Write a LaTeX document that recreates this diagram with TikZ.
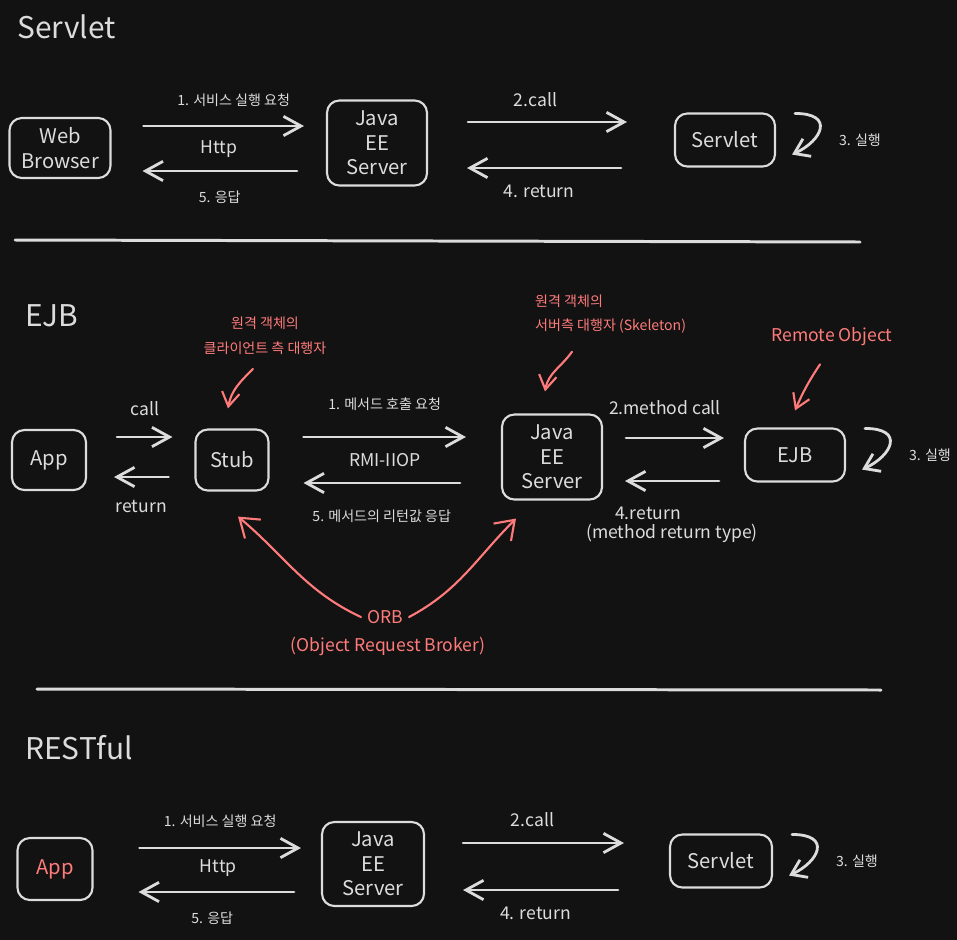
\documentclass[tikz,border=0pt]{standalone}
\usepackage{fontspec}
\setmainfont{Noto Sans CJK KR}
\usetikzlibrary{arrows.meta}

\definecolor{bgC}{HTML}{121212}
\definecolor{inkC}{HTML}{DCDCDC}
\definecolor{noteC}{HTML}{FF7B7B}

\tikzset{
  box/.style={draw=inkC,line width=1.2pt,rounded corners=7pt,text=inkC,align=center,
    inner sep=0pt,font=\fontsize{11.5}{14}\selectfont},
  arr/.style={draw=inkC,line width=1.6pt,line cap=round,-{Straight Barb[length=10pt,width=11pt]}},
  rarr/.style={draw=noteC,line width=1.2pt,line cap=round,-{Straight Barb[length=8pt,width=10pt]}},
  lbl/.style={text=inkC,font=\fontsize{10}{12}\selectfont},
  klbl/.style={text=inkC,font=\fontsize{8}{10}\selectfont},
  note/.style={text=noteC,font=\fontsize{8}{14}\selectfont,align=center},
  bignote/.style={text=noteC,font=\fontsize{10}{12}\selectfont},
  title/.style={text=inkC,anchor=west,inner sep=0pt,font=\fontsize{17}{20}\selectfont},
  sep/.style={draw=inkC,line width=1.7pt,line cap=round}
}

\begin{document}
\begin{tikzpicture}[x=0.02cm,y=-0.02cm]
\fill[bgC] (0,0) rectangle (957,940);

% Servlet
\node[title] (t1) at (17,27) {Servlet};
\node[box,minimum width=2.02cm,minimum height=1.2cm] (wb) at (60,148) {Web\\Browser};
\node[box,minimum width=2cm,minimum height=1.7cm] (jee1) at (377,143) {Java\\EE\\Server};
\node[box,minimum width=2cm,minimum height=1.06cm] (sv1) at (725,140) {Servlet};

\draw[arr] ([shift={(32,-22)}]wb.east) -- node[klbl,xshift=0.2cm,yshift=0.52cm]{1. 서비스 실행 요청}
  node[lbl,xshift=-0.1cm,yshift=-0.46cm]{Http} ([shift={(-22,-17)}]jee1.west);
\draw[arr] ([shift={(-29,28)}]jee1.west) -- node[klbl,yshift=-0.52cm]{5. 응답} ([shift={(31,23)}]wb.east);
\draw[arr] ([shift={(40,-21)}]jee1.east) -- node[lbl,xshift=-0.24cm,yshift=0.44cm]{2.call} ([shift={(-47,-18)}]sv1.west);
\draw[arr] ([shift={(-53,28)}]sv1.west) -- node[lbl,xshift=-0.1cm,yshift=-0.46cm]{4. return} ([shift={(39,25)}]jee1.east);

\draw[sep] (15,240) -- (860,242);

% EJB
\node[title] (t2) at (25,316) {EJB};
\node[box,minimum width=1.48cm,minimum height=1.2cm] (app2) at (49,460) {App};
\node[box,minimum width=1.46cm,minimum height=1.22cm] (stub) at (232,460) {Stub};
\node[box,minimum width=2cm,minimum height=1.7cm] (jee2) at (552,457) {Java\\EE\\Server};
\node[box,minimum width=2cm,minimum height=1.06cm] (ejb) at (795,455) {EJB};

\draw[arr] ([shift={(30,-23)}]app2.east) -- node[lbl,yshift=0.56cm]{call} ([shift={(-22,-23)}]stub.west);
\draw[arr] ([shift={(-26,17)}]stub.west) -- node[lbl,yshift=-0.58cm]{return} ([shift={(27,17)}]app2.east);
\draw[arr] ([shift={(34,-23)}]stub.east) -- node[klbl,yshift=0.66cm]{1. 메서드 호출 요청}
  node[lbl,yshift=-0.46cm]{RMI-IIOP} ([shift={(-35,-20)}]jee2.west);
\draw[arr] ([shift={(-41,26)}]jee2.west) -- node[klbl,yshift=-0.66cm]{5. 메서드의 리턴값 응답} ([shift={(34,23)}]stub.east);
\draw[arr] ([shift={(23,-19)}]jee2.east) -- node[lbl,xshift=-0.2cm,yshift=0.6cm]{2.method call} ([shift={(-20,-17)}]ejb.west);
\draw[arr] ([shift={(-25,26)}]ejb.west) -- node[lbl,xshift=-0.48cm,yshift=-0.64cm]{4.return}
  node[lbl,yshift=-1.04cm]{(method return type)} ([shift={(22,24)}]jee2.east);

\node[note] (cnote) at (265,336) {원격 객체의\\클라이언트 측 대행자};
\node[note,align=left,anchor=west] (snote) at (529,314) {원격 객체의\\서버측 대행자 (Skeleton)};
\node[bignote] (rnote) at (832,337) {Remote Object};
\node[bignote] (orb) at (385,617) {ORB};
\node[bignote] (orbfull) at (388,646) {(Object Request Broker)};

\draw[rarr] ([shift={(-12,8)}]cnote.south) to[out=-135,in=80] ([shift={(-4,-20)}]stub.north);
\draw[rarr] ([shift={(43,12)}]snote.south west) to[out=-125,in=80] ([shift={(-7,-22)}]jee2.north);
\draw[rarr] ([shift={(-12,12)}]rnote.south) to[bend right=5] ([shift={(0,-17)}]ejb.north);
\draw[rarr,-{Straight Barb[length=10pt,width=14pt]}] (orb.west) to[out=155,in=-40] ([shift={(6,25)}]stub.south);
\draw[rarr,-{Straight Barb[length=10pt,width=14pt]}] (orb.east) to[out=28,in=-135] ([shift={(-36,18)}]jee2.south);

\draw[sep] (37,689) -- (881,690);

% RESTful
\node[title] (t3) at (25,748) {RESTful};
\node[box,text=noteC,minimum width=1.5cm,minimum height=1.24cm] (app3) at (55,869) {App};
\node[box,minimum width=2.04cm,minimum height=1.68cm] (jee3) at (373,864) {Java\\EE\\Server};
\node[box,minimum width=2.04cm,minimum height=1.06cm] (sv3) at (721,861) {Servlet};

\draw[arr] ([shift={(46,-21)}]app3.east) -- node[klbl,yshift=0.54cm]{1. 서비스 실행 요청}
  node[lbl,xshift=-0.04cm,yshift=-0.4cm]{Http} ([shift={(-20,-16)}]jee3.west);
\draw[arr] ([shift={(-27,28)}]jee3.west) -- node[klbl,xshift=-0.08cm,yshift=-0.52cm]{5. 응답} ([shift={(45,23)}]app3.east);
\draw[arr] ([shift={(38,-21)}]jee3.east) -- node[lbl,xshift=-0.22cm,yshift=0.46cm]{2.call} ([shift={(-45,-18)}]sv3.west);
\draw[arr] ([shift={(-51,29)}]sv3.west) -- node[lbl,xshift=-0.1cm,yshift=-0.46cm]{4. return} ([shift={(38,26)}]jee3.east);

% 3. 실행 loops
\foreach \b in {sv1,ejb,sv3}{
  \draw[arr,-{Straight Barb[length=8pt,width=11pt]}] ([shift={(19,1)}]\b.north east)
    .. controls +(40,0) and +(30,-14) .. ([shift={(16,-13)}]\b.south east);
  \node[klbl] (run-\b) at ([xshift=1.68cm]\b.east) {3. 실행};
}
\end{tikzpicture}
\end{document}
